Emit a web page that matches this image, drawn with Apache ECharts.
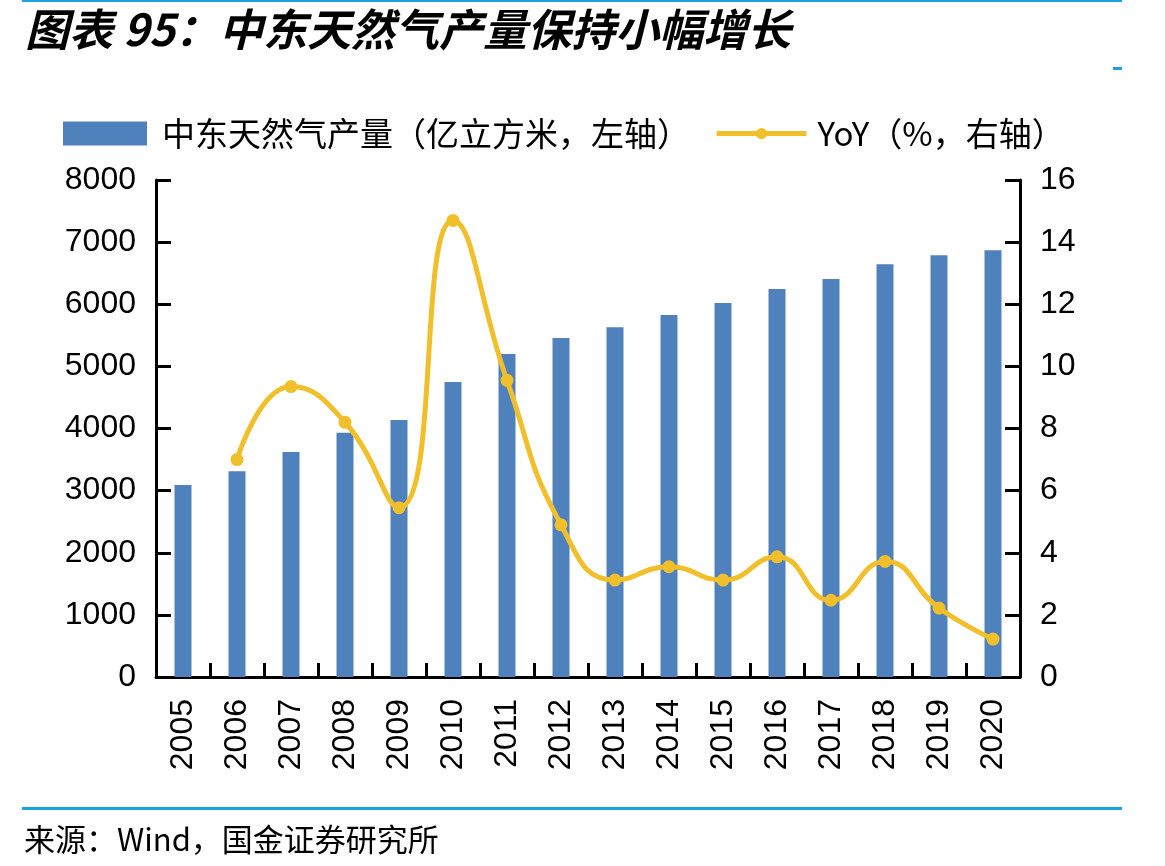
<!DOCTYPE html>
<html>
<head>
<meta charset="utf-8">
<script src="https://cdn.jsdelivr.net/npm/echarts@6/dist/echarts.min.js"></script>
<style>
  html, body { margin: 0; padding: 0; background: #fff; }
  #chart { width: 1165px; height: 866px; }
</style>
</head>
<body>
<div id="chart"></div>
<script>
const years = ["2005", "2006", "2007", "2008", "2009", "2010", "2011", "2012",
  "2013", "2014", "2015", "2016", "2017", "2018", "2019", "2020"];
// 产量（亿立方米）
const output = [3090, 3310, 3620, 3930, 4135, 4750, 5200, 5455,
  5630, 5825, 6020, 6245, 6405, 6645, 6790, 6870];
// YoY（%）
const yoy = [null, 7.0, 9.35, 8.2, 5.45, 14.7, 9.55, 4.9,
  3.12, 3.55, 3.12, 3.87, 2.47, 3.72, 2.22, 1.22];

const barName = "中东天然气产量（亿立方米，左轴）";
const lineName = "YoY（%，右轴）";

const numFont = "'Liberation Sans', Arial, sans-serif";
const cjkFont = "'Noto Sans CJK SC', 'Liberation Sans', sans-serif";
const blue = "#4F81BD";
const gold = "#F1BF2A";
const rule = "#1BA1E2";

function axisStyle() {
  return {
    axisLine: { show: true, lineStyle: { color: "#000", width: 3 } },
    axisTick: { show: true, inside: true, length: 15, lineStyle: { color: "#000", width: 3 } },
    axisLabel: { color: "#000", fontSize: 32, fontFamily: numFont, margin: 20, formatter: (v) => String(v) },
    splitLine: { show: false },
  };
}

const chart = echarts.init(document.getElementById("chart"), null, { renderer: "canvas" });

chart.setOption({
  animation: false,
  backgroundColor: "#fff",
  grid: { left: 156, right: 145, top: 180, bottom: 189 },
  legend: [
    {
      data: [barName],
      left: 63, top: 117, padding: 0,
      icon: "rect",
      itemWidth: 84, itemHeight: 24,
      textStyle: { fontSize: 33, fontFamily: cjkFont, color: "#000", padding: [0, 0, 0, 10] },
    },
    {
      data: [lineName],
      left: 714, top: 117, padding: 0,
      itemWidth: 90, itemHeight: 14,
      lineStyle: { width: 5 },
      textStyle: { fontSize: 33, fontFamily: cjkFont, color: "#000", padding: [0, 0, 0, 6] },
    },
  ],
  xAxis: {
    type: "category",
    data: years,
    boundaryGap: true,
    axisLine: { show: true, lineStyle: { color: "#000", width: 3 } },
    axisTick: { show: true, inside: true, length: 14, alignWithLabel: false, lineStyle: { color: "#000", width: 3 } },
    axisLabel: { color: "#000", fontSize: 32, fontFamily: numFont, rotate: 90, margin: 22, interval: 0 },
  },
  yAxis: [
    Object.assign({ type: "value", min: 0, max: 8000, interval: 1000, position: "left" }, axisStyle()),
    Object.assign({ type: "value", min: 0, max: 16, interval: 2, position: "right" }, axisStyle()),
  ],
  series: [
    {
      name: barName,
      type: "bar",
      data: output,
      barWidth: 17,
      itemStyle: { color: blue },
    },
    {
      name: lineName,
      type: "line",
      yAxisIndex: 1,
      data: yoy,
      smooth: 0.5,
      symbol: "circle",
      symbolSize: 13,
      itemStyle: { color: gold },
      lineStyle: { color: gold, width: 5 },
      z: 3,
    },
  ],
  graphic: [
    { type: "rect", shape: { x: 22, y: 0, width: 1100, height: 2 }, style: { fill: rule } },
    { type: "rect", shape: { x: 1113, y: 67, width: 9, height: 3 }, style: { fill: rule } },
    { type: "rect", shape: { x: 22, y: 807, width: 1100, height: 3 }, style: { fill: rule } },
    {
      type: "text", left: 25, top: 7,
      style: {
        text: "图表 95：中东天然气产量保持小幅增长",
        font: "italic bold 44px " + cjkFont,
        fill: "#000",
      },
    },
    {
      type: "text", left: 24, top: 824,
      style: {
        text: "来源：Wind，国金证券研究所",
        font: "31px " + cjkFont,
        fill: "#000",
      },
    },
  ],
});
</script>
</body>
</html>
